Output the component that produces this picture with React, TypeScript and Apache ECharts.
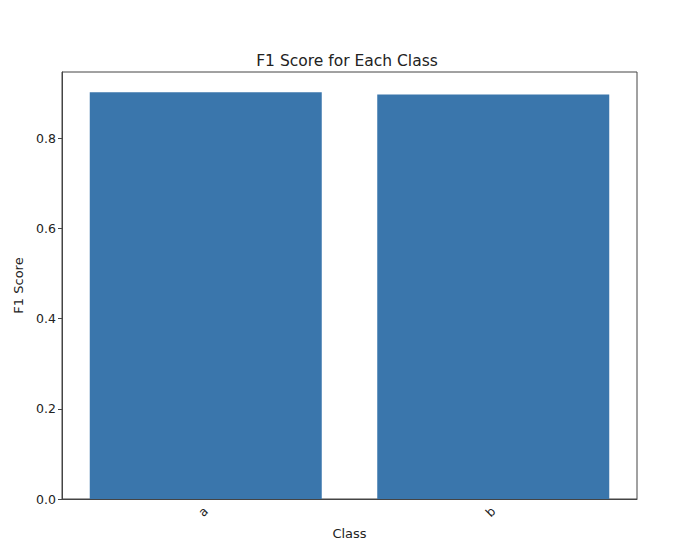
import React, { useEffect, useRef } from "react";
import * as echarts from "echarts";

const categories = ["a", "b"];
const f1Scores = [0.902, 0.897];
const yTicks = [0, 0.2, 0.4, 0.6, 0.8];

export default function App() {
  const ref = useRef<HTMLDivElement>(null);
  useEffect(() => {
    if (!ref.current) return;
    const chart = echarts.init(ref.current, null, { renderer: "svg" });
    const font = "DejaVu Sans";
    chart.setOption({
      animation: false,
      backgroundColor: "#ffffff",
      textStyle: { fontFamily: font },
      title: {
        text: "F1 Score for Each Class",
        left: "center",
        top: 48,
        textStyle: { fontFamily: font, fontSize: 15.5, fontWeight: "normal", color: "#222" },
      },
      grid: {
        left: 62,
        right: 57,
        top: 72,
        bottom: 57,
        show: true,
        borderColor: "#444",
        borderWidth: 1,
        containLabel: false,
      },
      xAxis: {
        type: "category",
        data: categories,
        name: "Class",
        nameLocation: "middle",
        nameGap: 28,
        nameTextStyle: { fontFamily: font, fontSize: 13, color: "#222" },
        axisLine: { lineStyle: { color: "#444" } },
        axisTick: { alignWithLabel: true, length: 4, lineStyle: { color: "#444" } },
        axisLabel: { rotate: 45, fontFamily: font, fontSize: 12.5, color: "#222", margin: 10 },
      },
      yAxis: {
        type: "value",
        min: 0,
        max: 0.947,
        interval: 0.2,
        name: "F1 Score",
        nameLocation: "middle",
        nameGap: 36,
        nameTextStyle: { fontFamily: font, fontSize: 13, color: "#222" },
        splitLine: { show: false },
        axisLine: { show: true, lineStyle: { color: "#444" } },
        axisTick: { show: true, length: 4, lineStyle: { color: "#444" } },
        axisLabel: {
          fontFamily: font,
          fontSize: 12.5,
          color: "#222",
          margin: 6,
          showMaxLabel: false,
          formatter: (v: number) =>
            yTicks.some((t) => Math.abs(t - v) < 1e-6) ? v.toFixed(1) : "",
        },
      },
      series: [
        {
          type: "bar",
          data: f1Scores,
          barWidth: 232,
          itemStyle: { color: "#3a76ac" },
        },
      ],
    });
    return () => chart.dispose();
  }, []);
  return <div ref={ref} style={{ width: 694, height: 556, position: "absolute", left: 0, top: 0 }} />;
}
